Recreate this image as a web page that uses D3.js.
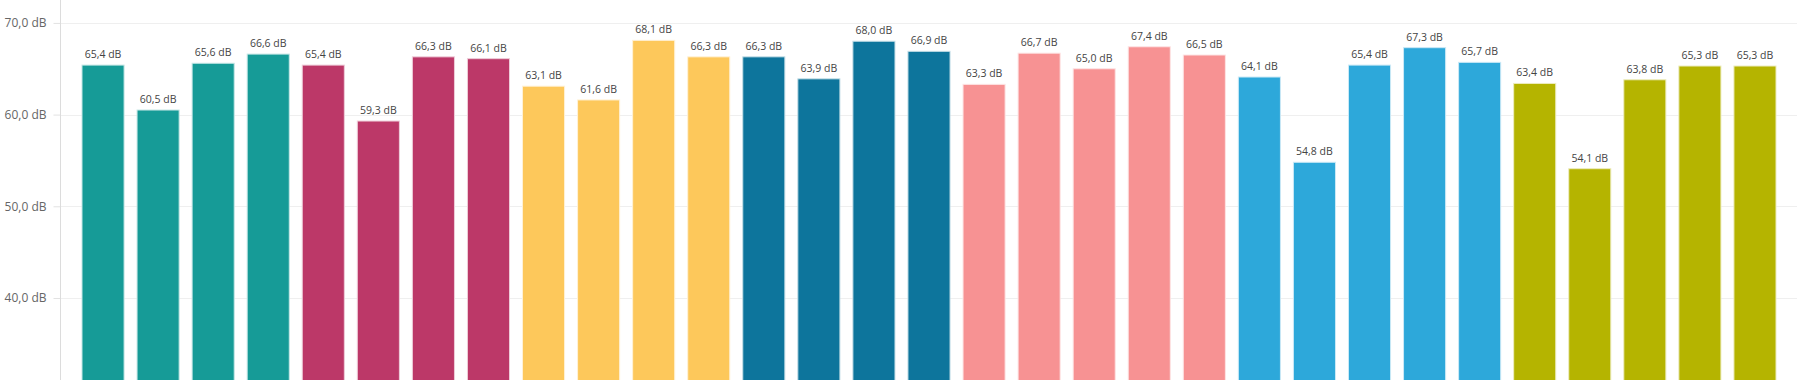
<!DOCTYPE html>
<html>
<head>
<meta charset="utf-8">
<script src="https://cdn.jsdelivr.net/npm/d3@7"></script>
<style>
  html, body { margin: 0; padding: 0; background: #fff; }
  svg { display: block; }
</style>
</head>
<body>
<svg id="chart" width="1799" height="380"></svg>
<script>
const categories = [
  "G1-1","G1-2","G1-3","G1-4",
  "G2-1","G2-2","G2-3","G2-4",
  "G3-1","G3-2","G3-3","G3-4",
  "G4-1","G4-2","G4-3","G4-4",
  "G5-1","G5-2","G5-3","G5-4","G5-5",
  "G6-1","G6-2","G6-3","G6-4","G6-5",
  "G7-1","G7-2","G7-3","G7-4","G7-5"
];
const groups = [
  "G1","G1","G1","G1",
  "G2","G2","G2","G2",
  "G3","G3","G3","G3",
  "G4","G4","G4","G4",
  "G5","G5","G5","G5","G5",
  "G6","G6","G6","G6","G6",
  "G7","G7","G7","G7","G7"
];
const values = [
  65.4, 60.5, 65.6, 66.6,
  65.4, 59.3, 66.3, 66.1,
  63.1, 61.6, 68.1, 66.3,
  66.3, 63.9, 68.0, 66.9,
  63.3, 66.7, 65.0, 67.4, 66.5,
  64.1, 54.8, 65.4, 67.3, 65.7,
  63.4, 54.1, 63.8, 65.3, 65.3
];
const groupNames = ["G1","G2","G3","G4","G5","G6","G7"];
const groupColors = ["#169B97","#BC3868","#FDC85B","#0D759C","#F79293","#2DA8DA","#B5B400"];
const yTicks = [40, 50, 60, 70];

const fmt = v => v.toFixed(1).replace(".", ",") + " dB";

const svg = d3.select("#chart");
const W = 1799, H = 380;

const y = d3.scaleLinear().domain([28, 72.5]).range([408, 0]);
const x = d3.scaleBand().domain(categories).range([75.5, 1782.5])
  .paddingInner(0.236).paddingOuter(0.118);
const color = d3.scaleOrdinal().domain(groupNames).range(groupColors);

const axisX = 60;

// gridlines
svg.append("g")
  .selectAll("line")
  .data(yTicks)
  .join("line")
  .attr("x1", axisX).attr("x2", 1797)
  .attr("y1", d => Math.round(y(d)) + 0.5).attr("y2", d => Math.round(y(d)) + 0.5)
  .attr("stroke", "#efefef").attr("stroke-width", 1);

// y axis
const yAxis = d3.axisLeft(y).tickValues(yTicks).tickFormat(fmt).tickSize(7).tickPadding(7);
const gAxis = svg.append("g").attr("transform", `translate(${axisX + 0.5},0)`).call(yAxis);
gAxis.select(".domain").remove();
gAxis.selectAll(".tick line").attr("stroke", "#e2e2e2");
gAxis.selectAll(".tick text")
  .attr("fill", "#666")
  .style("font-family", "'Open Sans', 'Noto Sans', sans-serif")
  .style("font-size", "12px");
svg.append("line")
  .attr("x1", axisX + 0.5).attr("x2", axisX + 0.5)
  .attr("y1", 0).attr("y2", H)
  .attr("stroke", "#dcdcdc");

// bars
const data = categories.map((c, i) => ({ c, g: groups[i], v: values[i] }));
svg.append("g")
  .selectAll("rect")
  .data(data)
  .join("rect")
  .attr("x", d => x(d.c))
  .attr("width", x.bandwidth())
  .attr("y", d => y(d.v))
  .attr("height", d => y.range()[0] - y(d.v))
  .attr("fill", d => color(d.g))
  .attr("stroke", d => d3.interpolateRgb(color(d.g), "#fff")(0.75))
  .attr("stroke-width", 1);

// labels
svg.append("g")
  .selectAll("text")
  .data(data)
  .join("text")
  .attr("x", d => x(d.c) + x.bandwidth() / 2)
  .attr("y", d => y(d.v) - 7)
  .attr("text-anchor", "middle")
  .attr("fill", "#444")
  .style("font-family", "'Open Sans', 'Noto Sans', sans-serif")
  .style("font-size", "10.5px")
  .text(d => fmt(d.v));
</script>
</body>
</html>
